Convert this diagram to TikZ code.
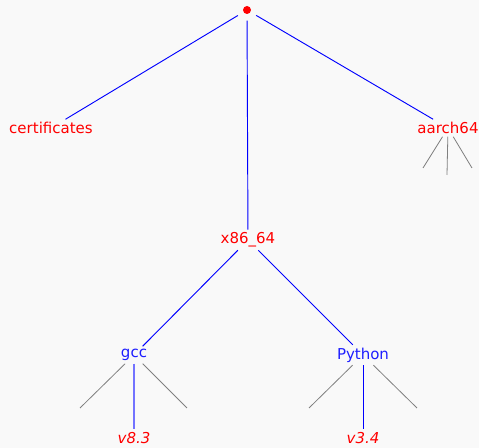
\documentclass[tikz,border=0pt]{standalone}
\usepackage{fontspec}
\setsansfont{DejaVu Sans}
\usepackage{tikz}
\definecolor{fundo}{HTML}{F9F9F9}
\definecolor{azul}{HTML}{1E1EFF}
\tikzset{
    rotulo/.style={font=\sffamily\fontsize{11.25pt}{13pt}\selectfont, inner sep=2pt},
    pasta/.style={rotulo, text=red},
    pacote/.style={rotulo, text=azul},
    versao/.style={rotulo, text=red, font=\sffamily\itshape\fontsize{11.25pt}{13pt}\selectfont},
    ramo/.style={draw=blue, line width=0.7pt},
    ramoClaro/.style={draw=blue!55, line width=0.9pt},
    toco/.style={draw=gray, line width=0.6pt}
}

\begin{document}
\begin{tikzpicture}[x=0.75pt, y=-0.75pt]
        \fill[fundo] (0,0) rectangle (479,448);
        \useasboundingbox (0,0) rectangle (479,448);

        \node[circle, fill=red, inner sep=0pt, minimum size=6pt, outer sep=5pt] (raiz) at (247,10) {};
        \node[pasta] (certificates) at (51,128) {certificates};
        \node[pasta] (aarch64) at (448,128) {aarch64};
        \node[pasta] (x86) at (248,240) {x86\_64};
        \node[pacote] (gcc) at (134,355) {gcc};
        \node[pacote] (python) at (363,355) {Python};
        \node[versao] (gccVer) at (134,438) {v8.3};
        \node[versao] (pythonVer) at (363,438) {v3.4};

        % pontas soltas
        \coordinate (aarchE) at (423,168);
        \coordinate (aarchM) at (447,175);
        \coordinate (aarchD) at (472,168);
        \coordinate (gccE) at (80,408);
        \coordinate (gccD) at (187,408);
        \coordinate (pythonE) at (309,408);
        \coordinate (pythonD) at (417,408);

        \draw[ramo] (raiz) -- (certificates);
        \draw[ramo] (raiz) -- (aarch64);
        \draw[ramo] (raiz) -- (x86);
        \draw[ramo] (x86) -- (gcc);
        \draw[ramo] (x86) -- (python);
        \draw[ramoClaro] (gcc) -- (gccVer);
        \draw[ramo] (python) -- (pythonVer);

        \draw[toco] (aarch64) -- (aarchE);
        \draw[toco] (aarch64) -- (aarchM);
        \draw[toco] (aarch64) -- (aarchD);
        \draw[toco] (gcc) -- (gccE);
        \draw[toco] (gcc) -- (gccD);
        \draw[toco] (python) -- (pythonE);
        \draw[toco] (python) -- (pythonD);
    \end{tikzpicture}
\end{document}
